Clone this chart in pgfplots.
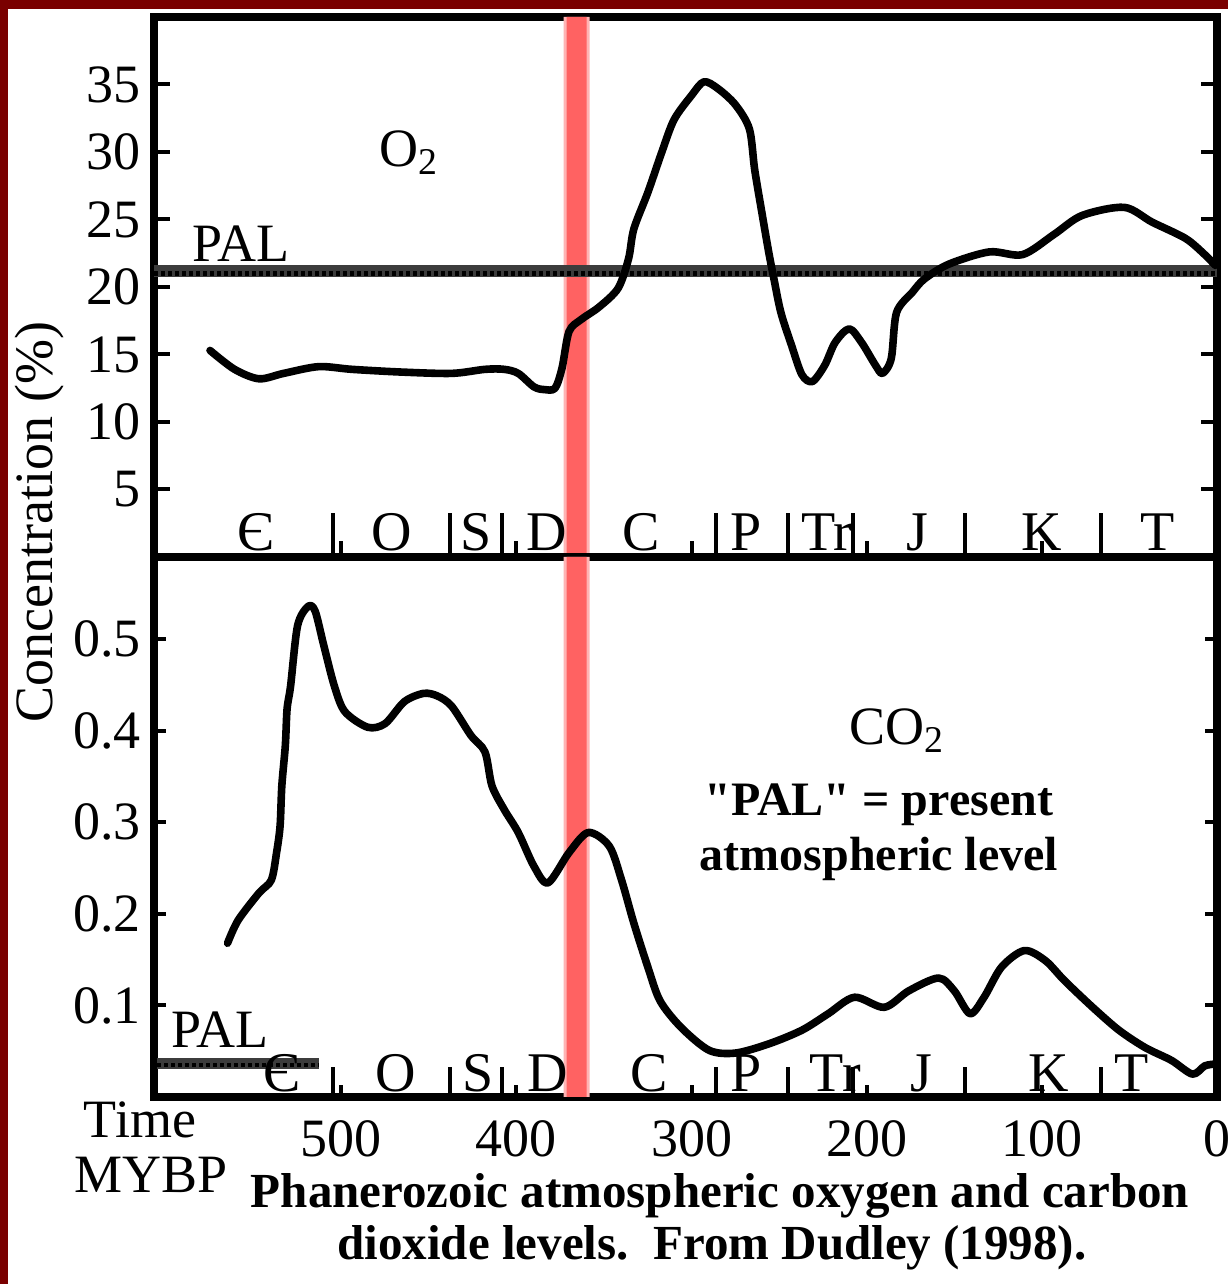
\documentclass[border=0pt]{standalone}
\usepackage{fontspec}
\setmainfont{Liberation Serif}
\usepackage{pgfplots}
\pgfplotsset{compat=1.18}
\definecolor{frameRed}{HTML}{7A0000}
\definecolor{bandRed}{HTML}{FF6262}
\definecolor{bandEdge}{HTML}{FFB4B4}
\definecolor{palGray}{HTML}{3C3C3C}

\newcommand{\lblfont}{\fontsize{27}{30}\selectfont}

\pgfplotsset{
  dudley/.style={
    scale only axis,
    width=531.5pt, height=270pt,
    x dir=reverse, xmin=0, xmax=607,
    axis line style={line width=4pt, black},
    every tick/.style={black, line width=2pt},
    tick align=inside,
    major tick length=8pt,
    xtick pos=bottom, ytick pos=both,
    xtick={100,200,300,400,500},
    extra x ticks={505,438,408,360,286,245,208,144,66},
    extra x tick labels={},
    tick label style={font=\lblfont},
    yticklabel style={xshift=-3pt},
    /pgf/number format/assume math mode=true,
    clip=false,
  },
  curve/.style={black, line width=3.8pt, smooth, tension=0.5, line join=round, line cap=round},
}
\tikzset{period/.style={font=\fontsize{28}{30}\selectfont, anchor=base}}

\begin{document}
\begin{tikzpicture}
\fill[white] (0,0) rectangle (614pt,642pt);
\useasboundingbox (0,0) rectangle (614pt,642pt);
\fill[frameRed] (0,0) rectangle (4pt,642pt);
\fill[frameRed] (0,637.5pt) rectangle (614pt,642pt);

% oxygen
\begin{axis}[dudley, at={(77pt,363.5pt)}, anchor=south west,
  ymin=0, ymax=40, ytick={5,10,...,35}, xticklabels={},
  extra x tick style={major tick length=22pt}]
\addplot[fill=bandEdge, draw=none] coordinates {(373.1,0) (373.1,40) (358.3,40) (358.3,0)} \closedcycle;
\addplot[fill=bandRed, draw=none] coordinates {(371.4,0) (371.4,40) (360,40) (360,0)} \closedcycle;
\addplot[palGray, line width=6pt] coordinates {(607,21.2) (0,21.2)};
\addplot[black, line width=2.5pt, dash pattern=on 2pt off 1.5pt] coordinates {(607,21.0) (0,21.0)};
\addplot[curve] coordinates {
(575,15.3) (561,13.9) (547,13.2) (533,13.6) (513,14.1) (494,13.9) (466,13.7)
(437,13.6) (418,13.9) (407,13.9) (399,13.6) (390,12.6) (384,12.4) (378,12.5)
(374,14.0) (370,16.7) (363,17.6) (353,18.5) (342,19.9) (336,22.1) (333,24.3)
(325,27.0) (317,30.0) (310,32.4) (300,34.2) (293,35.2) (285,34.7) (275,33.5)
(267,31.7) (264,28.7) (260,25.6) (256,22.6) (253,20.6) (249,18.1) (243,15.7)
(237,13.5) (231,13.0) (224,14.2) (218,15.9) (210,16.9) (203,15.9) (195,14.2)
(191,13.6) (186,14.7) (183,18.1) (174,19.6) (167,20.6) (153,21.7) (130,22.6)
(111,22.4) (93,23.9) (77,25.3) (53,25.9) (37,24.8) (18,23.6) (7,22.4) (1,21.6)
};
\node[font=\lblfont, anchor=base west] at (axis cs:589,21.9) {PAL};
\node[font=\lblfont, anchor=base west] at (axis cs:482,28.9) {O\textsubscript{2}};
\node[period] at (axis cs:549,0.45) {Є};
\node[period] at (axis cs:471,0.45) {O};
\node[period] at (axis cs:423,0.45) {S};
\node[period] at (axis cs:383,0.45) {D};
\node[period] at (axis cs:329,0.45) {C};
\node[period] at (axis cs:269,0.45) {P};
\node[period] at (axis cs:223,0.45) {Tr};
\node[period] at (axis cs:171,0.45) {J};
\node[period] at (axis cs:100,0.45) {K};
\node[period] at (axis cs:34,0.45) {T};
\end{axis}

% carbon dioxide
\begin{axis}[dudley, at={(77pt,93.5pt)}, anchor=south west,
  ymin=0, ymax=0.59, ytick={0.1,0.2,0.3,0.4,0.5},
  xtick={0,100,200,300,400,500},
  major tick length=6pt,
  extra x tick style={major tick length=15pt},
  yticklabel style={/pgf/number format/fixed, /pgf/number format/precision=1,
    /pgf/number format/fixed zerofill},
  xticklabel style={inner sep=0pt, yshift=-11.5pt}]
\addplot[fill=bandEdge, draw=none] coordinates {(373.1,0) (373.1,0.59) (358.3,0.59) (358.3,0)} \closedcycle;
\addplot[fill=bandRed, draw=none] coordinates {(371.4,0) (371.4,0.59) (360,0.59) (360,0)} \closedcycle;
\addplot[palGray, line width=5.5pt] coordinates {(605,0.037) (513,0.037)};
\addplot[black, line width=2.2pt, dash pattern=on 2pt off 1.5pt] coordinates {(605,0.035) (513,0.035)};
\addplot[curve] coordinates {
(565,0.168) (559,0.193) (547,0.223) (540,0.237) (537,0.267) (535,0.296)
(534,0.340) (532,0.384) (531,0.424) (529,0.449) (525,0.515) (519,0.536)
(515,0.531) (510,0.493) (504,0.449) (498,0.421) (485,0.404) (475,0.408)
(464,0.432) (453,0.441) (445,0.438) (437,0.427) (426,0.395) (418,0.377)
(414,0.340) (407,0.314) (399,0.289) (390,0.252) (382,0.234) (370,0.267)
(359,0.289) (347,0.274) (340,0.237) (333,0.190) (325,0.142) (318,0.105)
(306,0.076) (290,0.051) (275,0.048) (256,0.058) (237,0.073) (222,0.091)
(207,0.109) (190,0.098) (176,0.116) (159,0.130) (150,0.116) (141,0.091)
(133,0.109) (123,0.142) (110,0.160) (98,0.149) (87,0.127) (71,0.098)
(56,0.073) (41,0.054) (26,0.040) (14,0.025) (7,0.034) (1,0.036)
};
\node[font=\lblfont, anchor=base west] at (axis cs:601,0.054) {PAL};
\node[font=\lblfont, anchor=base west] at (axis cs:214,0.385) {CO\textsubscript{2}};
\node[font=\bfseries\fontsize{24}{26}\selectfont, anchor=base] at (axis cs:193,0.308) {\textquotedbl PAL\textquotedbl{} = present};
\node[font=\bfseries\fontsize{24}{26}\selectfont, anchor=base] at (axis cs:193,0.248) {atmospheric level};
\node[period] at (axis cs:534,0.006) {Є};
\node[period] at (axis cs:469,0.006) {O};
\node[period] at (axis cs:422,0.006) {S};
\node[period] at (axis cs:382,0.006) {D};
\node[period] at (axis cs:324,0.006) {C};
\node[period] at (axis cs:269,0.006) {P};
\node[period] at (axis cs:218,0.006) {Tr};
\node[period] at (axis cs:169,0.006) {J};
\node[period] at (axis cs:96,0.006) {K};
\node[period] at (axis cs:49,0.006) {T};
\end{axis}

\node[font=\lblfont, rotate=90] at (20pt,381pt) {Concentration (\%)};
\node[font=\lblfont] at (70pt,82pt) {Time};
\node[font=\lblfont] at (75.5pt,54.5pt) {MYBP};
\node[font=\bfseries\fontsize{24.5}{26}\selectfont, inner sep=0pt] at (360pt,44pt) {Phanerozoic atmospheric oxygen and carbon};
\node[font=\bfseries\fontsize{24.5}{26}\selectfont, inner sep=0pt] at (356pt,18pt) {dioxide levels.\ \ From Dudley (1998).};
\end{tikzpicture}
\end{document}
